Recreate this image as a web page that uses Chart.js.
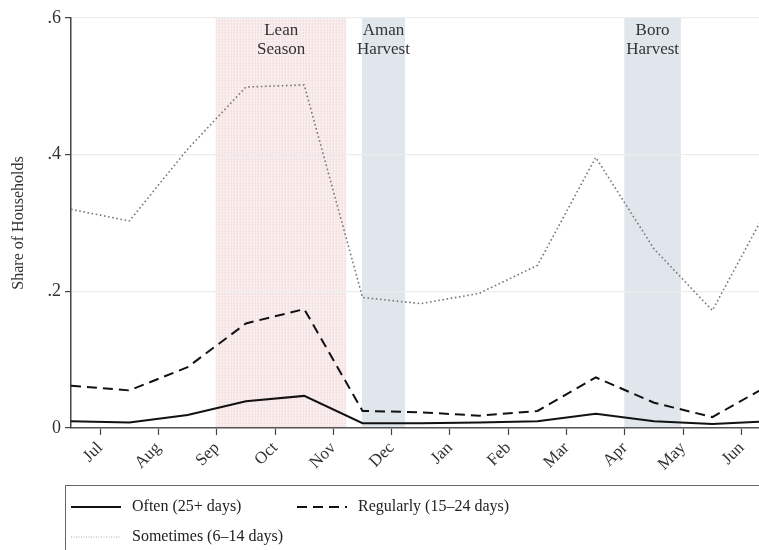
<!DOCTYPE html>
<html><head><meta charset="utf-8">
<script src="https://cdn.jsdelivr.net/npm/chart.js@4"></script>
<style>html,body{margin:0;padding:0;background:#fff;overflow:hidden}</style>
</head><body>
<canvas id="c" width="759" height="550"></canvas>
<script>
// ---- data ----
const months = ['Jul','Aug','Sep','Oct','Nov','Dec','Jan','Feb','Mar','Apr','May','Jun'];
const period = [0,1,2,3,4,5,6,7,8,9,10,11,12];
const often     = [0.010,0.008,0.019,0.039,0.047,0.007,0.007,0.008,0.010,0.021,0.010,0.006,0.010];
const regularly = [0.062,0.055,0.089,0.153,0.174,0.025,0.023,0.018,0.025,0.074,0.037,0.016,0.064];
const sometimes = [0.320,0.303,0.408,0.499,0.502,0.191,0.182,0.197,0.238,0.396,0.262,0.172,0.330];
const seriesLabels = ['Often (25+ days)','Regularly (15\u201324 days)','Sometimes (6\u201314 days)'];
const yTicks = [0,0.2,0.4,0.6];
const bandLabels = [['Lean','Season'],['Aman','Harvest'],['Boro','Harvest']];
const bandStart = [2.49,4.99,9.49];
const bandEnd   = [4.72,5.73,10.46];
const xMin = 0, xMax = 11.8;

const SERIF = '"Liberation Serif","DejaVu Serif",serif';
const pts = arr => period.map((p,i)=>({x:p,y:arr[i]}));

const bandsPlugin = {
  id:'bands',
  beforeDraw(chart){
    const {ctx, chartArea:a, scales:{x}} = chart;
    ctx.save();
    ctx.fillStyle='#fff'; ctx.fillRect(0,0,chart.width,chart.height);
    bandStart.forEach((s,i)=>{
      const x0 = x.getPixelForValue(s), x1 = x.getPixelForValue(bandEnd[i]);
      if(i===0){
        ctx.fillStyle='rgba(252,244,244,1)';
        ctx.fillRect(x0,a.top,x1-x0,a.bottom-a.top);
        ctx.strokeStyle='rgba(225,170,170,0.45)'; ctx.lineWidth=0.5;
        ctx.beginPath();
        for(let px=x0;px<=x1;px+=3){ctx.moveTo(px,a.top);ctx.lineTo(px,a.bottom);}
        for(let py=a.top;py<=a.bottom;py+=3){ctx.moveTo(x0,py);ctx.lineTo(x1,py);}
        ctx.stroke();
      } else {
        ctx.fillStyle='#e1e6ed';
        ctx.fillRect(x0,a.top,x1-x0,a.bottom-a.top);
      }
    });
    ctx.restore();
  },
  afterDraw(chart){
    const {ctx, chartArea:a, scales:{x}} = chart;
    ctx.save();
    ctx.font='17px '+SERIF; ctx.fillStyle='#333'; ctx.textAlign='center'; ctx.textBaseline='middle';
    bandStart.forEach((s,i)=>{
      const cx = (x.getPixelForValue(s)+x.getPixelForValue(bandEnd[i]))/2;
      bandLabels[i].forEach((t,j)=>ctx.fillText(t,cx,a.top+13+j*19));
    });
    // legend
    const lx = 65, ly = 485;
    ctx.strokeStyle='#666'; ctx.lineWidth=1;
    ctx.strokeRect(lx+0.5,ly+0.5,chart.width,chart.height);
    const pos = [[71,507],[297,507],[71,537]];
    ctx.textAlign='left'; ctx.font='16px '+SERIF; ctx.fillStyle='#222';
    chart.data.datasets.forEach((d,i)=>{
      const [sx,sy]=pos[i];
      ctx.beginPath();
      ctx.strokeStyle = i===2 ? '#aaa' : d.borderColor;
      ctx.lineWidth = i===2 ? 1 : d.borderWidth;
      ctx.setLineDash(i===2 ? [1,1.5] : (d.borderDash||[]));
      ctx.moveTo(sx,sy); ctx.lineTo(sx+50,sy); ctx.stroke();
      ctx.setLineDash([]);
      ctx.fillText(d.label,sx+61,sy);
    });
    ctx.restore();
  }
};

new Chart(document.getElementById('c'),{
  type:'line',
  data:{datasets:[
    {label:seriesLabels[0],data:pts(often),borderColor:'#111',borderWidth:2,pointRadius:0,tension:0},
    {label:seriesLabels[1],data:pts(regularly),borderColor:'#111',borderWidth:2,borderDash:[10,6],pointRadius:0,tension:0},
    {label:seriesLabels[2],data:pts(sometimes),borderColor:'#777',borderWidth:1.6,borderDash:[1.6,2.6],pointRadius:0,tension:0}
  ]},
  options:{
    responsive:false, devicePixelRatio:1, animation:false,
    layout:{padding:{top:18,right:0,left:0,bottom:0}},
    plugins:{legend:{display:false},tooltip:{enabled:false}},
    scales:{
      x:{type:'linear',min:xMin,max:xMax,
        afterBuildTicks(s){s.ticks = months.map((m,i)=>({value:i+0.5}));},
        afterFit(s){s.height=122;},
        ticks:{autoSkip:false,maxRotation:45,minRotation:45,padding:3,color:'#333',font:{family:SERIF,size:17},
          callback:(v,i)=>months[i]},
        grid:{drawOnChartArea:false,drawTicks:true,tickLength:7,tickColor:'#444',tickWidth:1.2},
        border:{display:true,color:'#555',width:1.5}
      },
      y:{min:0,max:0.6,
        afterBuildTicks(s){s.ticks = yTicks.map(v=>({value:v}));},
        afterFit(s){s.width=71;},
        ticks:{padding:4,color:'#333',font:{family:SERIF,size:18},
          callback:v=> v===0?'0':v.toFixed(1).replace(/^0/,'')},
        grid:{color:'#ebedef',lineWidth:1.2,tickColor:'#444',tickLength:6,tickWidth:1.2},
        border:{display:true,color:'#444',width:1.5},
        title:{display:true,text:'Share of Households',color:'#333',font:{family:SERIF,size:16},padding:{top:9,bottom:0}}
      }
    }
  },
  plugins:[bandsPlugin]
});
</script>
</body></html>
